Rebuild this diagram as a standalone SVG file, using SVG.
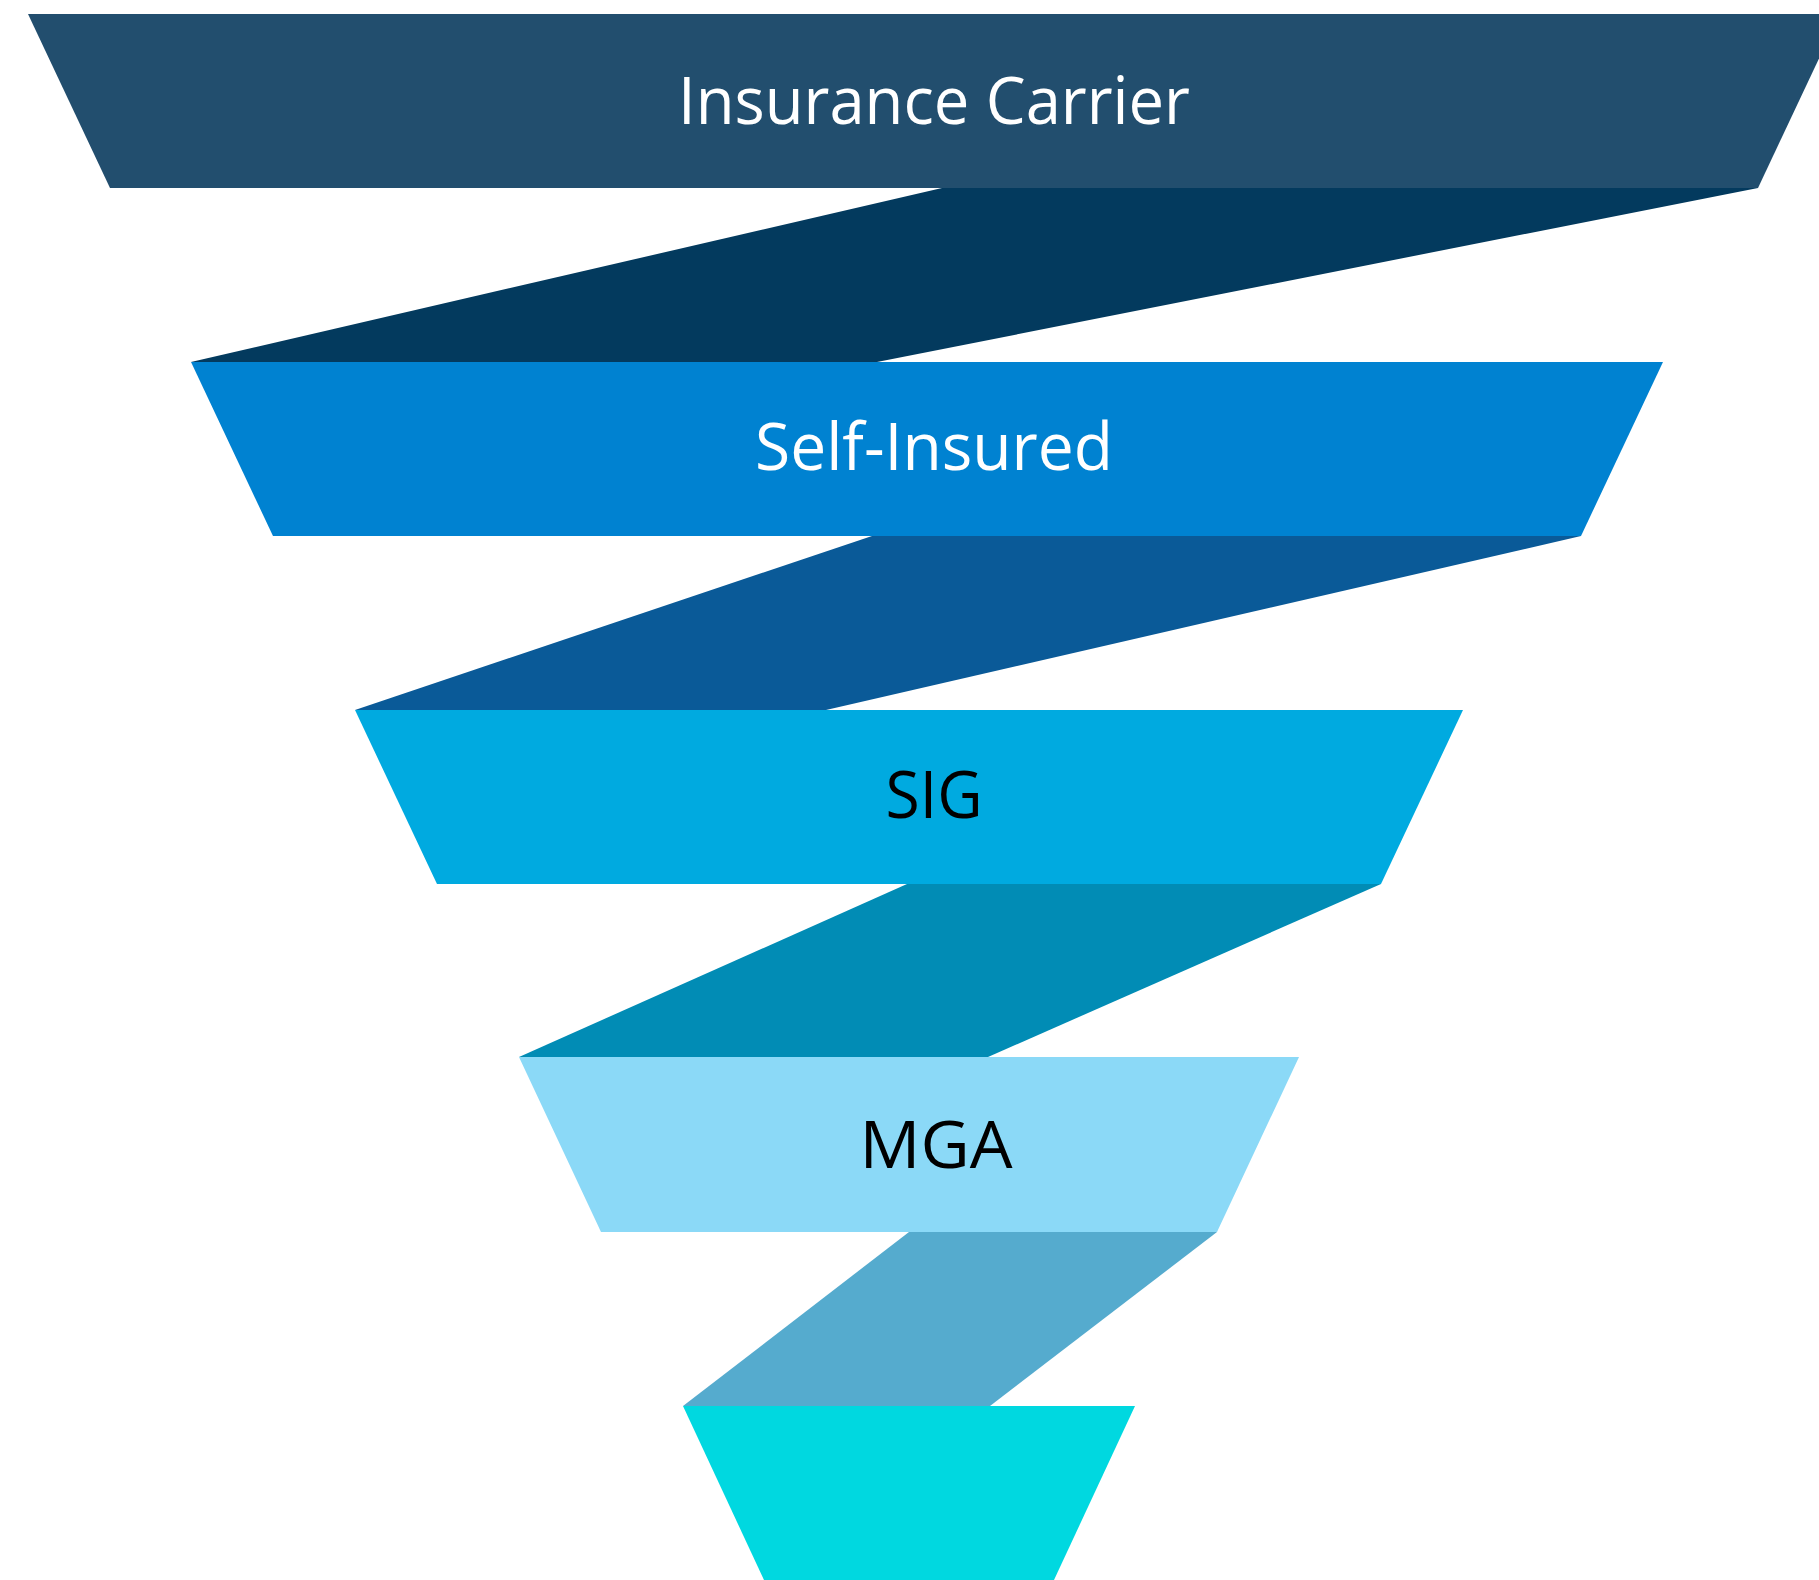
<svg xmlns="http://www.w3.org/2000/svg" width="1819" height="1580" viewBox="0 0 1819 1580">
<style>
.lbl{font-family:"Open Sans","Liberation Sans",sans-serif;font-size:65px;text-anchor:middle}
.w{fill:#ffffff}
.k{fill:#000000}
</style>
<rect x="0" y="0" width="1819" height="1580" fill="#ffffff"/>
<g id="connectors">
<polygon points="191,362 942,188 1758,188 877,362" fill="#033A5E"/>
<polygon points="355,710 872,536 1581,536 826,710" fill="#0A5A98"/>
<polygon points="519,1057 907,884 1381,884 988,1057" fill="#018CB5"/>
<polygon points="683,1406 909,1232 1217,1232 990,1406" fill="#55ABCE"/>
</g>
<g id="insurance-carrier">
<polygon points="28,14 1840,14 1758,188 110,188" fill="#224E6E"/>
<text class="lbl w" x="934" y="124" textLength="512" lengthAdjust="spacingAndGlyphs">Insurance Carrier</text>
</g>
<g id="self-insured">
<polygon points="191,362 1663,362 1581,536 273,536" fill="#0082D1"/>
<text class="lbl w" x="934" y="470" textLength="358" lengthAdjust="spacingAndGlyphs">Self-Insured</text>
</g>
<g id="sig">
<polygon points="355,710 1463,710 1381,884 437,884" fill="#00AAE0"/>
<text class="lbl k" x="934" y="818" textLength="97" lengthAdjust="spacingAndGlyphs">SIG</text>
</g>
<g id="mga">
<polygon points="519,1057 1299,1057 1217,1232 601,1232" fill="#8BD9F7"/>
<text class="lbl k" x="936" y="1168" textLength="153" lengthAdjust="spacingAndGlyphs">MGA</text>
</g>
<g id="bottom">
<polygon points="683,1406 1135,1406 1054,1580 764,1580" fill="#00D8E0"/>
</g>
</svg>
